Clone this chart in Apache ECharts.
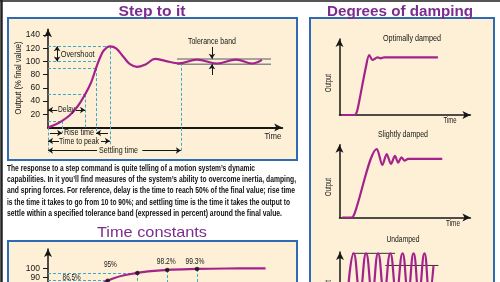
<!DOCTYPE html>
<html>
<head>
<meta charset="utf-8">
<script src="https://cdn.jsdelivr.net/npm/echarts@6/dist/echarts.min.js"></script>
<style>
  html, body { margin: 0; padding: 0; background: #fff; }
  #chart { width: 500px; height: 282px; }
</style>
</head>
<body>
<div id="chart"></div>
<script>
// ---- Step to it: time (arbitrary units) vs output (% of final value)
const stepTime   = [0, 2.9, 5.9, 9.2, 12.6, 15.5, 18.0, 20.1, 21.8, 23.4, 25.9, 28.5, 31.8, 34.3, 37.2, 41.0, 44.8, 49.0, 54.8, 62.3, 70.7, 78.7, 85.4, 89.5];
const stepOutput = [0, 4, 10, 19, 33, 50, 68, 90, 106, 117, 123, 120, 106, 96, 92, 96, 104, 101, 97.3, 103, 97, 103, 97, 102.5];
const stepTicks  = [20, 40, 60, 80, 100, 120, 140];
const bandTime   = [54, 93.3];
const bandLimits = [96, 104];
// levels marked by dashed guides and the time where each guide meets the curve
const guideLevels = [10, 50, 90, 100, 123];
const guideTimes  = [5.9, 15.5, 20.1, 20.6, 25.9];
const settlingTime = 55.6;
const settlingLevel = 98;

// ---- Time constants: output (%) after n time constants
const tcTau    = [0, 1, 2, 3, 4, 5, 6, 7.3];
const tcOutput = [0, 63.2, 86.5, 95, 98.2, 99.3, 99.8, 100];
const tcMarkTau    = [2, 3, 4, 5];
const tcMarkOutput = [86.5, 95, 98.2, 99.3];
const tcTicks = [0, 10, 20, 30, 40, 50, 60, 70, 80, 90, 100];

// ---- Degrees of damping
const optTime   = [0, 9.4, 11.1, 13.1, 18, 20.5, 23, 26.7, 29.1, 31.8, 72.4];
const optOutput = [0, 0, 3.8, 18.8, 60.4, 75, 68.8, 72.1, 70.9, 72.1, 72.1];
const slightTime   = [0, 7, 9.3, 26.3, 30.4, 33.7, 36.9, 39.9, 42.4, 44.8, 47.3, 49.8, 75.7];
const slightOutput = [0, 0, 4.6, 89.5, 68.6, 83, 70, 80.4, 71.6, 78.7, 74.2, 76.5, 76.5];
const undampedTime   = [5.8, 10.2, 14.8, 19.4, 23.9, 28.3, 32.8, 37.4, 41.9, 46.5, 50.6, 54.7, 58.7, 62.8, 66.5, 69.5];
const undampedOutput = [45, 93.5, 45, 93.5, 45, 93.5, 45, 93.5, 45, 93.5, 45, 93.5, 45, 93.5, 45, 78];
const undampedTopTime = [9, 41];
const undampedTopLevel = 93.5;
const undampedMidTime = [33.7, 73.2];
const undampedMidLevel = 78.7;

const noteLines = [
  'The response to a step command is quite telling of a motion system\u2019s dynamic',
  'capabilities. In it you\u2019ll find measures of the system\u2019s ability to overcome inertia, damping,',
  'and spring forces. For reference, delay is the time to reach 50% of the final value; rise time',
  'is the time it takes to go from 10 to 90%; and settling time is the time it takes the output to',
  'settle within a specified tolerance band (expressed in percent) around the final value.'
];

const CURVE = '#a3228b';
const DASH = '#3ea8c9';
const PURPLE = '#7b2c8c';
const BLUE = '#2f6bb3';
const CREAM = '#fdf0d6';
const INK = '#161616';
const SANS = '"Liberation Sans", Arial, sans-serif';
const NARROW = '"Liberation Sans Narrow", "Liberation Sans", sans-serif';

const zip = (xs, ys) => xs.map((x, i) => [x, ys[i]]);

const chart = echarts.init(document.getElementById('chart'));

const grid = [
  { left: 48, right: 217.8, top: 29.2, bottom: 154.5 },    // step response
  { left: 48, right: 217.8, top: 25.2, bottom: 128.1 },    // step annotations (wider y range)
  { left: 48, right: 213.6, top: 249, bottom: -78.3 },     // time constants
  { left: 339.5, right: 29.55, top: 39, bottom: 167 },     // optimally damped
  { left: 339.5, right: 29.55, top: 144.8, bottom: 64.5 }, // slightly damped
  { left: 340, right: 29.55, top: 252.1, bottom: -48 }     // undamped
].map(g => Object.assign({ outerBoundsMode: 'none', containLabel: false }, g));

const arrowLine = (w) => ({ show: true, onZero: false, lineStyle: { color: INK, width: w }, symbol: ['none', 'arrow'], symbolSize: [6, 8] });
const hidden = (gi, min, max) => ({ type: 'value', gridIndex: gi, min, max, show: false });
const plainAxis = (gi, min, max, w) => ({
  type: 'value', gridIndex: gi, min, max,
  axisLine: arrowLine(w), axisTick: { show: false }, axisLabel: { show: false }, splitLine: { show: false }
});
const tickedY = (gi, min, max, ticks) => ({
  type: 'value', gridIndex: gi, min, max,
  axisLine: arrowLine(1.5),
  axisTick: { show: true, length: 5, customValues: ticks, lineStyle: { color: INK } },
  axisLabel: { customValues: ticks, margin: 8, fontSize: 8.5, color: INK, fontFamily: NARROW },
  splitLine: { show: false }
});

const dashed = (a, b) => [
  { coord: a, symbol: 'none', lineStyle: { color: DASH, type: [3, 2], width: 1 } },
  { coord: b, symbol: 'none' }
];
const arrow = (a, b, both) => [
  { coord: a, symbol: both ? 'arrow' : 'none', lineStyle: { color: INK, type: 'solid', width: 1 } },
  { coord: b, symbol: 'arrow' }
];

const stepGuides = [];
guideLevels.forEach((lv, i) => stepGuides.push(dashed([0, lv], [guideTimes[i], lv])));
stepGuides.push(
  dashed([guideTimes[0], guideLevels[0]], [guideTimes[0], -8.3]),
  dashed([guideTimes[1], guideLevels[1]], [guideTimes[1], 0]),
  dashed([guideTimes[2], guideLevels[2]], [guideTimes[2], -8.3]),
  dashed([guideTimes[4], guideLevels[4]], [guideTimes[4], -26.5]),
  dashed([0, 0], [0, -38.6]),
  dashed([settlingTime, settlingLevel], [settlingTime, -38.6])
);
const stepArrows = [
  arrow([3.8, guideLevels[3]], [3.8, guideLevels[4]], true),
  arrow([3.9, 26.5], [0, 26.5]),
  arrow([11.6, 26.5], [guideTimes[1], 26.5]),
  arrow([0.8, -8.3], [guideTimes[0], -8.3]),
  arrow([25.1, -8.3], [guideTimes[2], -8.3]),
  arrow([4.6, -20.5], [0, -20.5]),
  arrow([22.2, -20.5], [guideTimes[4], -20.5]),
  arrow([20.5, -34.8], [0, -34.8]),
  arrow([39.5, -34.8], [settlingTime, -34.8]),
  arrow([68.6, 122], [68.6, bandLimits[1] + 0.3]),
  arrow([68.6, 79.5], [68.6, bandLimits[0] - 0.3])
];

const tcGuides = [
  dashed([0, tcMarkOutput[1]], [tcMarkTau[1], tcMarkOutput[1]]),
  dashed([0, tcMarkOutput[0]], [tcMarkTau[0], tcMarkOutput[0]])
].concat(tcMarkTau.map((t, i) => dashed([t, tcMarkOutput[i]], [t, 0])));

const curveLine = (gi, data, smooth, z) => ({
  type: 'line', xAxisIndex: gi, yAxisIndex: gi, data, smooth, showSymbol: false, z: z || 5,
  lineStyle: { color: CURVE, width: 2.2 }, itemStyle: { color: CURVE }
});
const refLine = (gi, data, color, width, z) => ({
  type: 'line', xAxisIndex: gi, yAxisIndex: gi, data, showSymbol: false, z,
  lineStyle: { color, width }, itemStyle: { color }
});

const option = {
  animation: false,
  backgroundColor: '#fff',
  grid,
  xAxis: [
    plainAxis(0, 0, 98, 2),
    hidden(1, 0, 98),
    hidden(2, 0, 8),
    plainAxis(3, -2, 97, 1.5),
    plainAxis(4, -2, 97, 1.5),
    hidden(5, 0, 97)
  ],
  yAxis: [
    tickedY(0, 0, 149, stepTicks),
    hidden(1, -40, 155),
    tickedY(2, 0, 121, tcTicks),
    plainAxis(3, 0, 95, 1.5),
    plainAxis(4, 0, 95, 1.5),
    plainAxis(5, 0, 95, 1.5)
  ],
  series: [
    {
      type: 'line', xAxisIndex: 1, yAxisIndex: 1, data: [], z: 3, silent: true,
      markLine: { silent: true, symbolSize: 5, label: { show: false }, data: stepGuides.concat(stepArrows) }
    },
    refLine(0, zip(bandTime, [bandLimits[1], bandLimits[1]]), '#8a8a8a', 1.5, 4),
    refLine(0, zip(bandTime, [bandLimits[0], bandLimits[0]]), '#8a8a8a', 1.5, 4),
    curveLine(0, zip(stepTime, stepOutput), 0.4),
    curveLine(2, zip(tcTau, tcOutput), 0.4),
    {
      type: 'scatter', xAxisIndex: 2, yAxisIndex: 2, data: zip(tcMarkTau, tcMarkOutput), z: 6,
      symbolSize: 4.5, itemStyle: { color: '#111' },
      markLine: { silent: true, symbolSize: 5, label: { show: false }, data: tcGuides }
    },
    curveLine(3, zip(optTime, optOutput), 0.3),
    curveLine(4, zip(slightTime, slightOutput), 0.3),
    refLine(5, zip(undampedTopTime, [undampedTopLevel, undampedTopLevel]), '#333', 1, 4),
    refLine(5, zip(undampedMidTime, [undampedMidLevel, undampedMidLevel]), '#333', 1, 4),
    curveLine(5, zip(undampedTime, undampedOutput), 0.5)
  ]
};
chart.setOption(option);

// ---- text and panels (text widths fitted to the reference)
const ctx = document.createElement('canvas').getContext('2d');
function fitted(text, x, y, width, o) {
  o = o || {};
  const size = o.size || 9, weight = o.weight || 'normal', family = o.family || SANS;
  ctx.font = weight + ' ' + size + 'px ' + family;
  const natural = ctx.measureText(text).width;
  return {
    type: 'text', x, y, z: 10, rotation: o.rotation || 0, scaleX: width / natural, silent: true,
    style: { text, fontSize: size, fontWeight: weight, fontFamily: family, fill: o.color || INK,
      align: o.align || 'center', verticalAlign: 'middle' }
  };
}
const at = (gi, p) => chart.convertToPixel({ gridIndex: gi }, p);

const elements = [
  { type: 'rect', z: -5, shape: { x: 8, y: 18, width: 289, height: 142 }, style: { fill: CREAM, stroke: BLUE, lineWidth: 2 } },
  { type: 'rect', z: -5, shape: { x: 8, y: 241, width: 289, height: 60 }, style: { fill: CREAM, stroke: BLUE, lineWidth: 2 } },
  { type: 'rect', z: -5, shape: { x: 310, y: 18, width: 184, height: 280 }, style: { fill: CREAM, stroke: BLUE, lineWidth: 2 } },
  { type: 'line', z: -4, shape: { x1: 0, y1: 1, x2: 500, y2: 1 }, style: { stroke: '#555', lineWidth: 2 } },
  { type: 'line', z: -4, shape: { x1: 1.5, y1: 0, x2: 1.5, y2: 282 }, style: { stroke: '#222', lineWidth: 2.5 } },
  fitted('Step to it', 152, 11.5, 67, { size: 15, weight: 'bold', color: PURPLE }),
  fitted('Degrees of damping', 400, 11.5, 146, { size: 15, weight: 'bold', color: PURPLE }),
  fitted('Time constants', 152, 233, 110, { size: 15, color: PURPLE }),
  fitted('Output (% final value)', 18, 78, 73, { size: 9.5 }),
  fitted('Optimally damped', 412, 39, 58),
  fitted('Slightly damped', 403, 135, 50),
  fitted('Undamped', 403, 240, 33),
  fitted('Output', 329, 83, 18, { rotation: Math.PI / 2 }),
  fitted('Output', 329, 187, 18, { rotation: Math.PI / 2 }),
  fitted('Output', 329, 289, 18, { rotation: Math.PI / 2 }),
  fitted('Time', 450, 121, 13),
  fitted('Time', 453, 224, 14)
];
elements[8].rotation = Math.PI / 2;
const lineY = [168.3, 179.6, 191, 202.3, 213.6];
const lineW = [248, 289, 288, 283, 275];
noteLines.forEach((t, i) => elements.push(fitted(t, 7, lineY[i], lineW[i], { size: 9, weight: 'bold', align: 'left', color: '#111' })));

const stepNotes = [
  ['Overshoot', 5.3, 111, 34, 'left'],
  ['Delay', 7.7, 26.5, 17],
  ['Rise time', 13, -8.3, 30],
  ['Time to peak', 13, -20.5, 40],
  ['Settling time', 29.5, -34.8, 39],
  ['Tolerance band', 68.6, 131, 48],
  ['Time', 94.1, -14.4, 17]
];
stepNotes.forEach(n => {
  const p = at(1, [n[1], n[2]]);
  elements.push(fitted(n[0], p[0], p[1], n[3], { align: n[4] || 'center' }));
});

const tcOffsets = [[-36, -3], [-27, -8], [-1, -8], [-2, -7]];
const tcWidths = [18, 13, 19, 19];
tcMarkTau.forEach((t, i) => {
  const p = at(2, [t, tcMarkOutput[i]]);
  elements.push(fitted(tcMarkOutput[i] + '%', p[0] + tcOffsets[i][0], p[1] + tcOffsets[i][1], tcWidths[i]));
});

chart.setOption({ graphic: { elements } });
</script>
</body>
</html>
